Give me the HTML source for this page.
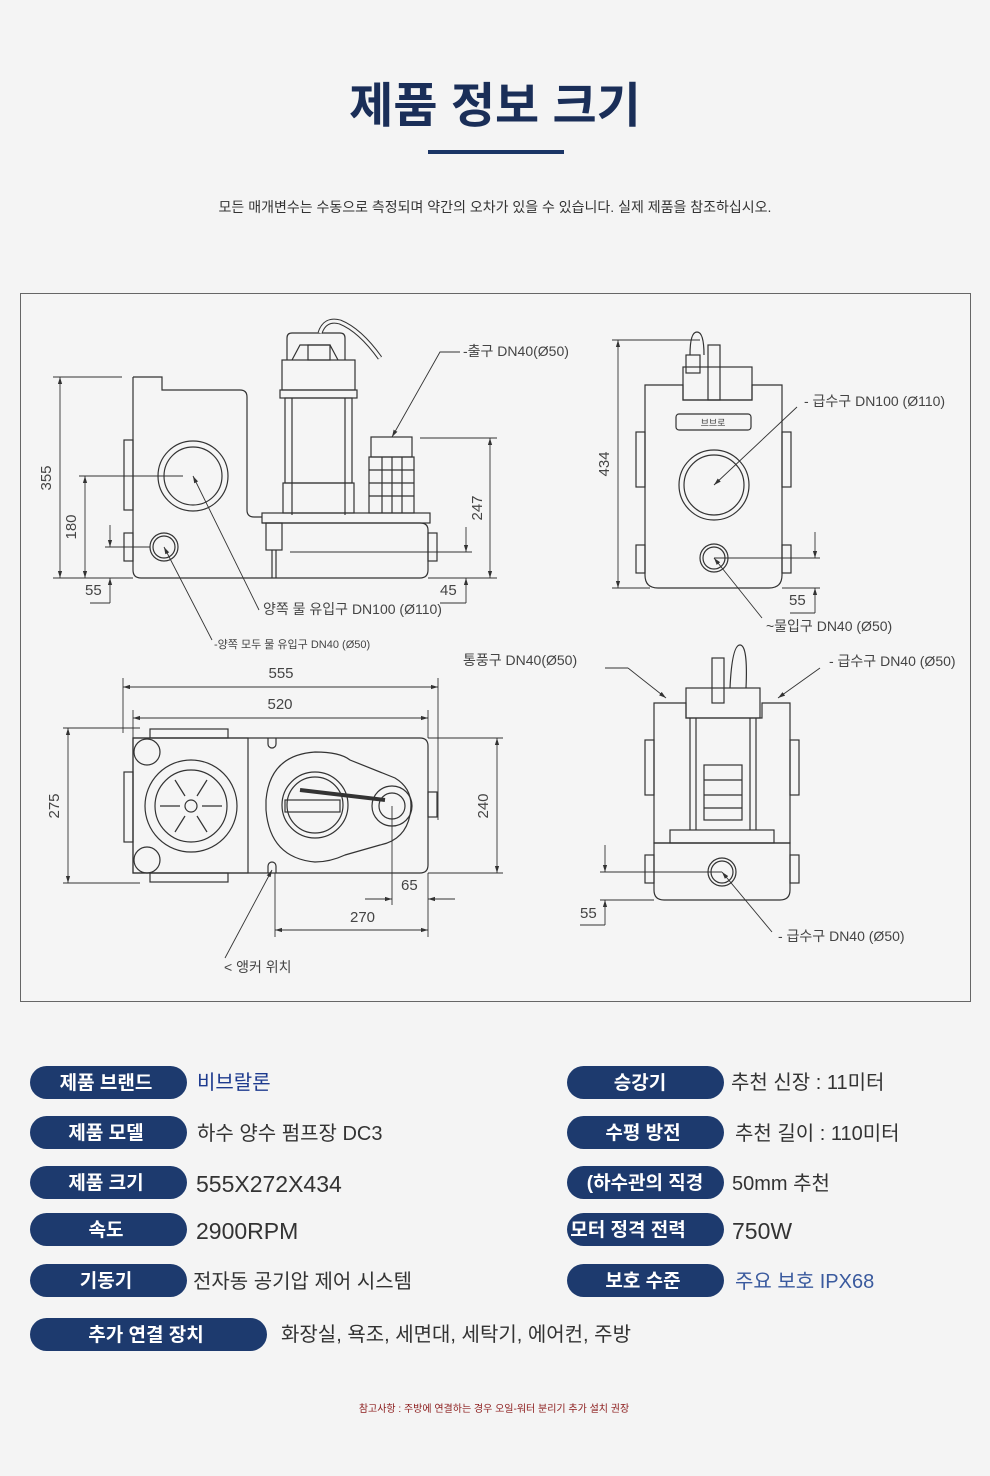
<!DOCTYPE html>
<html><head><meta charset="utf-8"><style>
html,body{margin:0;padding:0;background:#f4f4f4;}
svg{display:block}
text{font-family:"Liberation Sans","Noto Sans CJK KR",sans-serif;}
</style></head><body>
<svg width="990" height="1476" viewBox="0 0 990 1476" xmlns="http://www.w3.org/2000/svg">
<defs>
<marker id="a" viewBox="0 0 10 10" refX="10" refY="5" markerWidth="8" markerHeight="8" orient="auto-start-reverse"><path d="M0 2 L10 5 L0 8 Z" fill="#333"/></marker>
</defs>
<rect width="990" height="1476" fill="#f4f4f4"/>
<text x="495" y="122" text-anchor="middle" font-size="48" font-weight="bold" fill="#1a2e58">제품 정보 크기</text>
<rect x="428" y="150" width="136" height="4" fill="#1b3566"/>
<text x="495" y="212" text-anchor="middle" font-size="14" fill="#333">모든 매개변수는 수동으로 측정되며 약간의 오차가 있을 수 있습니다. 실제 제품을 참조하십시오.</text>
<rect x="20.5" y="293.5" width="950" height="708" fill="#f5f5f5" stroke="#666" stroke-width="1"/>

<g fill="none" stroke="#333" stroke-width="1.2">
<path d="M133 377 H162 V390 H240 Q247 390 247 397 V510 Q247 517 254 517 H262"/>
<path d="M133 377 V570 Q133 578 141 578 H420 Q428 578 428 570 V530 Q428 523 420 523 H262"/>
<rect x="262" y="513" width="168" height="10"/>
<rect x="124" y="440" width="9" height="70"/><rect x="124" y="533" width="9" height="28"/>
<rect x="428" y="533" width="9" height="28"/>
<rect x="266" y="523" width="16" height="27"/><line x1="272" y1="550" x2="272" y2="578"/><line x1="276" y1="550" x2="276" y2="578"/>
<circle cx="193" cy="476" r="35"/><circle cx="193" cy="476" r="29"/>
<circle cx="164" cy="547" r="14"/><circle cx="164" cy="547" r="11"/>
<rect x="282" y="360" width="73" height="30"/><rect x="280" y="390" width="77" height="8"/>
<rect x="285" y="398" width="67" height="85"/><line x1="292" y1="398" x2="292" y2="515"/><line x1="345" y1="398" x2="345" y2="515"/>
<rect x="283" y="483" width="71" height="30"/>
<path d="M287 360 V338 Q287 333 292 333 H340 Q345 333 345 338 V360"/><path d="M292 360 L300 345 H330 L338 360"/>
<rect x="308" y="345" width="22" height="15"/>
<path d="M320 333 Q325 318 340 322 Q360 330 380 358" stroke-width="5" stroke="#333"/><path d="M320 333 Q325 318 340 322 Q360 330 380 358" stroke-width="3" stroke="#f5f5f5"/>
<rect x="371" y="437" width="41" height="20"/><rect x="369" y="457" width="45" height="56"/>
<line x1="369" y1="470" x2="414" y2="470"/><line x1="369" y1="483" x2="414" y2="483"/><line x1="369" y1="496" x2="414" y2="496"/>
<line x1="382" y1="457" x2="382" y2="513"/><line x1="392" y1="457" x2="392" y2="513"/><line x1="402" y1="457" x2="402" y2="513"/>
</g>
<g fill="none" stroke="#333" stroke-width="0.9">
<line x1="53" y1="377" x2="122" y2="377"/><line x1="53" y1="578" x2="133" y2="578"/><line x1="60" y1="377" x2="60" y2="578" marker-start="url(#a)" marker-end="url(#a)"/>
<line x1="79" y1="476" x2="183" y2="476"/><line x1="85" y1="476" x2="85" y2="578" marker-start="url(#a)" marker-end="url(#a)"/>
<line x1="105" y1="547" x2="150" y2="547"/><line x1="110" y1="525" x2="110" y2="547" marker-end="url(#a)"/><line x1="110" y1="603" x2="110" y2="578" marker-end="url(#a)"/><line x1="90" y1="603" x2="110" y2="603"/>
<line x1="420" y1="438" x2="497" y2="438"/><line x1="490" y1="438" x2="490" y2="578" marker-start="url(#a)" marker-end="url(#a)"/><line x1="428" y1="578" x2="497" y2="578"/>
<line x1="290" y1="552" x2="472" y2="552"/><line x1="466" y1="527" x2="466" y2="552" marker-end="url(#a)"/><line x1="466" y1="603" x2="466" y2="578" marker-end="url(#a)"/><line x1="440" y1="603" x2="466" y2="603"/>
<line x1="259" y1="610" x2="193" y2="476" marker-end="url(#a)"/><line x1="212" y1="640" x2="164" y2="547" marker-end="url(#a)"/>
<polyline points="460,352 440,352 392,437" marker-end="url(#a)"/>
</g>
<g font-size="15" fill="#444">
<text x="51" y="478" transform="rotate(-90 51 478)" text-anchor="middle">355</text>
<text x="76" y="527" transform="rotate(-90 76 527)" text-anchor="middle">180</text>
<text x="85" y="595">55</text>
<text x="482" y="508" transform="rotate(-90 482 508)" text-anchor="middle">247</text>
<text x="440" y="595">45</text>
<text x="463" y="356" font-size="14">-출구 DN40(Ø50)</text>
<text x="263" y="614" font-size="14">양쪽 물 유입구 DN100 (Ø110)</text>
<text x="214" y="648" font-size="11">-양쪽 모두 물 유입구 DN40 (Ø50)</text>
</g>

<g fill="none" stroke="#333" stroke-width="1.2">
<path d="M133 738 H420 Q428 738 428 746 V865 Q428 873 420 873 H133 Z"/>
<rect x="133" y="738" width="115" height="135"/>
<rect x="150" y="729" width="78" height="9"/><rect x="150" y="873" width="78" height="9"/>
<rect x="124" y="772" width="9" height="70"/><rect x="428" y="792" width="9" height="25"/>
<circle cx="147" cy="752" r="13"/><circle cx="147" cy="860" r="13"/>
<circle cx="191" cy="806" r="46"/><circle cx="191" cy="806" r="36"/><circle cx="191" cy="806" r="6"/>
<line x1="160" y1="806" x2="180" y2="806"/><line x1="202" y1="806" x2="222" y2="806"/>
<line x1="175" y1="780" x2="185" y2="796"/><line x1="207" y1="780" x2="197" y2="796"/>
<line x1="175" y1="832" x2="185" y2="816"/><line x1="207" y1="832" x2="197" y2="816"/>
<path d="M266 800 Q270 755 315 752 Q340 752 350 760 L395 778 Q415 790 410 815 Q405 840 380 845 L345 855 Q330 862 315 862 Q270 858 266 810 Z"/>
<circle cx="315" cy="805" r="33"/><circle cx="315" cy="805" r="28"/>
<circle cx="392" cy="806" r="20"/><circle cx="392" cy="806" r="13"/>
<path d="M300 790 L385 800" stroke-width="4"/>
<rect x="285" y="800" width="55" height="12"/>
<path d="M268 738 V744 A4 4 0 0 0 276 744 V738"/><path d="M268 873 V866 A4 4 0 0 1 276 866 V873"/>
</g>
<g fill="none" stroke="#333" stroke-width="0.9">
<line x1="123" y1="678" x2="123" y2="733"/><line x1="438" y1="678" x2="438" y2="820"/><line x1="123" y1="687" x2="438" y2="687" marker-start="url(#a)" marker-end="url(#a)"/>
<line x1="133" y1="710" x2="133" y2="738"/><line x1="428" y1="710" x2="428" y2="738"/><line x1="133" y1="718" x2="428" y2="718" marker-start="url(#a)" marker-end="url(#a)"/>
<line x1="63" y1="728" x2="140" y2="728"/><line x1="63" y1="883" x2="140" y2="883"/><line x1="68" y1="728" x2="68" y2="883" marker-start="url(#a)" marker-end="url(#a)"/>
<line x1="428" y1="738" x2="503" y2="738"/><line x1="428" y1="873" x2="503" y2="873"/><line x1="497" y1="738" x2="497" y2="873" marker-start="url(#a)" marker-end="url(#a)"/>
<line x1="392" y1="806" x2="392" y2="905"/><line x1="365" y1="899" x2="392" y2="899" marker-end="url(#a)"/><line x1="455" y1="899" x2="428" y2="899" marker-end="url(#a)"/>
<line x1="275" y1="873" x2="275" y2="937"/><line x1="428" y1="873" x2="428" y2="937"/><line x1="275" y1="930" x2="428" y2="930" marker-start="url(#a)" marker-end="url(#a)"/>
<line x1="225" y1="958" x2="272" y2="870" marker-end="url(#a)"/>
</g>
<g font-size="15" fill="#444">
<text x="281" y="678" text-anchor="middle">555</text>
<text x="280" y="709" text-anchor="middle">520</text>
<text x="59" y="806" transform="rotate(-90 59 806)" text-anchor="middle">275</text>
<text x="488" y="806" transform="rotate(-90 488 806)" text-anchor="middle">240</text>
<text x="401" y="890">65</text>
<text x="350" y="922">270</text>
<text x="224" y="972" font-size="14">&lt; 앵커 위치</text>
</g>

<g fill="none" stroke="#333" stroke-width="1.2">
<path d="M645 385 H683 V400 H752 V385 H782 V575 Q782 588 769 588 H658 Q645 588 645 575 Z"/>
<rect x="683" y="367" width="69" height="33"/>
<rect x="636" y="432" width="9" height="55"/><rect x="782" y="432" width="9" height="55"/>
<rect x="636" y="545" width="9" height="28"/><rect x="782" y="545" width="9" height="28"/>
<rect x="676" y="414" width="75" height="16" rx="3"/>
<rect x="708" y="345" width="12" height="55"/><rect x="686" y="355" width="14" height="18"/>
<path d="M690 355 Q690 332 697 332 Q704 332 704 355"/>
<circle cx="714" cy="485" r="35"/><circle cx="714" cy="485" r="30"/>
<circle cx="714" cy="558" r="14"/><circle cx="714" cy="558" r="11"/>
</g>
<text x="713" y="426" text-anchor="middle" font-size="9" fill="#444">브브로</text>
<g fill="none" stroke="#333" stroke-width="0.9">
<line x1="612" y1="340" x2="700" y2="340"/><line x1="612" y1="588" x2="650" y2="588"/><line x1="618" y1="340" x2="618" y2="588" marker-start="url(#a)" marker-end="url(#a)"/>
<line x1="714" y1="558" x2="820" y2="558"/><line x1="782" y1="588" x2="820" y2="588"/><line x1="815" y1="532" x2="815" y2="558" marker-end="url(#a)"/><line x1="815" y1="613" x2="815" y2="588" marker-end="url(#a)"/><line x1="790" y1="613" x2="815" y2="613"/>
<line x1="797" y1="407" x2="714" y2="485" marker-end="url(#a)"/><line x1="762" y1="618" x2="714" y2="558" marker-end="url(#a)"/>
</g>
<g font-size="15" fill="#444">
<text x="609" y="464" transform="rotate(-90 609 464)" text-anchor="middle">434</text>
<text x="789" y="605">55</text>
<text x="804" y="406" font-size="14">- 급수구 DN100 (Ø110)</text>
<text x="766" y="631" font-size="14">~물입구 DN40 (Ø50)</text>
</g>

<g fill="none" stroke="#333" stroke-width="1.2">
<path d="M654 703 H686 V718 H762 V703 H790 V843 H654 Z"/>
<path d="M654 843 H790 V890 Q790 900 780 900 H664 Q654 900 654 890 Z"/>
<rect x="645" y="740" width="9" height="55"/><rect x="790" y="740" width="9" height="55"/>
<rect x="645" y="855" width="9" height="28"/><rect x="790" y="855" width="9" height="28"/>
<rect x="686" y="688" width="74" height="30"/>
<rect x="712" y="658" width="12" height="45"/>
<path d="M730 688 Q732 645 740 645 Q748 645 746 688"/>
<line x1="690" y1="718" x2="690" y2="830"/><line x1="696" y1="718" x2="696" y2="830"/>
<line x1="750" y1="718" x2="750" y2="830"/><line x1="756" y1="718" x2="756" y2="830"/>
<rect x="704" y="765" width="38" height="55"/><line x1="704" y1="780" x2="742" y2="780"/><line x1="704" y1="795" x2="742" y2="795"/><line x1="704" y1="808" x2="742" y2="808"/>
<rect x="670" y="830" width="104" height="13"/>
<circle cx="722" cy="872" r="14"/><circle cx="722" cy="872" r="11"/>
</g>
<g fill="none" stroke="#333" stroke-width="0.9">
<line x1="605" y1="668" x2="628" y2="668"/><line x1="628" y1="668" x2="666" y2="698" marker-end="url(#a)"/>
<line x1="820" y1="668" x2="778" y2="698" marker-end="url(#a)"/>
<line x1="600" y1="872" x2="722" y2="872"/><line x1="600" y1="900" x2="654" y2="900"/><line x1="605" y1="845" x2="605" y2="872" marker-end="url(#a)"/><line x1="605" y1="925" x2="605" y2="900" marker-end="url(#a)"/><line x1="580" y1="925" x2="605" y2="925"/>
<line x1="772" y1="932" x2="722" y2="872" marker-end="url(#a)"/>
</g>
<g font-size="15" fill="#444">
<text x="463" y="665" font-size="14">통풍구 DN40(Ø50)</text>
<text x="829" y="666" font-size="14">- 급수구 DN40 (Ø50)</text>
<text x="580" y="918">55</text>
<text x="778" y="941" font-size="14">- 급수구 DN40 (Ø50)</text>
</g>

<g fill="#1d3a6e">
<rect x="30" y="1066" width="157" height="33" rx="16.5"/>
<rect x="30" y="1116" width="157" height="33" rx="16.5"/>
<rect x="30" y="1166" width="157" height="33" rx="16.5"/>
<rect x="30" y="1213" width="157" height="33" rx="16.5"/>
<rect x="30" y="1264" width="157" height="33" rx="16.5"/>
<rect x="30" y="1318" width="237" height="33" rx="16.5"/>
<rect x="567" y="1066" width="157" height="33" rx="16.5"/>
<rect x="567" y="1116" width="157" height="33" rx="16.5"/>
<rect x="567" y="1166" width="157" height="33" rx="16.5"/>
<rect x="567" y="1213" width="157" height="33" rx="16.5"/>
<rect x="567" y="1264" width="157" height="33" rx="16.5"/>
</g>
<g font-size="19" font-weight="bold" fill="#fff" text-anchor="middle">
<text x="106" y="1089">제품 브랜드</text>
<text x="106" y="1139">제품 모델</text>
<text x="106" y="1189">제품 크기</text>
<text x="106" y="1236">속도</text>
<text x="106" y="1287">기동기</text>
<text x="146" y="1341">추가 연결 장치</text>
<text x="640" y="1089">승강기</text>
<text x="643" y="1139">수평 방전</text>
<text x="645" y="1189">(하수관의 직경</text>
<text x="628" y="1236">모터 정격 전력</text>
<text x="643" y="1287">보호 수준</text>
</g>
<g font-size="20" fill="#333">
<text x="197" y="1089" fill="#1d3a8e">비브랄론</text>
<text x="197" y="1140">하수 양수 펌프장 DC3</text>
<text x="196" y="1192" font-size="23">555X272X434</text>
<text x="196" y="1239" font-size="23">2900RPM</text>
<text x="193" y="1288">전자동 공기압 제어 시스템</text>
<text x="281" y="1341">화장실, 욕조, 세면대, 세탁기, 에어컨, 주방</text>
<text x="731" y="1089">추천 신장 : 11미터</text>
<text x="735" y="1140">추천 길이 : 110미터</text>
<text x="732" y="1190">50mm 추천</text>
<text x="732" y="1239" font-size="23">750W</text>
<text x="735" y="1288" fill="#3a5a9e">주요 보호 IPX68</text>
</g>
<text x="494" y="1412" text-anchor="middle" font-size="10" fill="#8b1a1a">참고사항 : 주방에 연결하는 경우 오일-워터 분리기 추가 설치 권장</text>
</svg>
</body></html>
